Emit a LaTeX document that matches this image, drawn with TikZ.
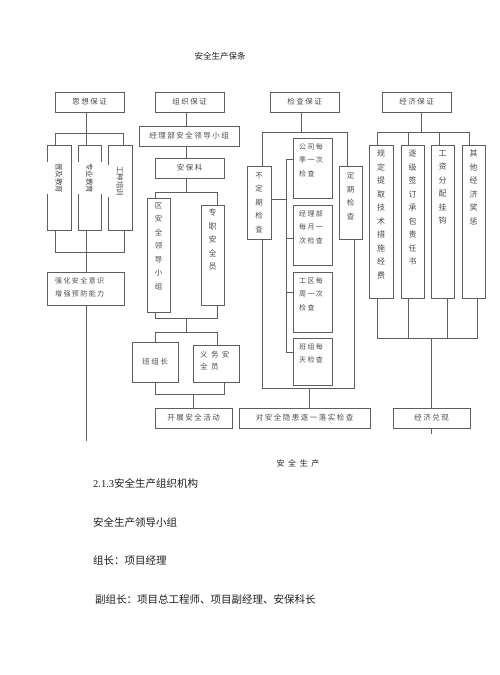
\documentclass[tikz,border=0pt]{standalone}
\usepackage{fontspec}
\setmainfont{Liberation Serif}
\newfontfamily\cjk{Noto Sans CJK SC}
\newfontfamily\cjksp[LetterSpace=20]{Noto Sans CJK SC}
\newfontfamily\cjkwide[LetterSpace=45]{Noto Sans CJK SC}
\definecolor{ln}{HTML}{5E5E5E}
\definecolor{tx}{HTML}{4A4A4A}
\definecolor{dk}{HTML}{1E1E1E}
\begin{document}
\begin{tikzpicture}[x=1pt,y=-1pt,
 box/.style={draw=ln, line width=0.9pt, inner sep=0pt, text=tx, font=\cjksp\fontsize{7.5}{9}\selectfont},
 wire/.style={draw=ln, line width=0.9pt},
 vtext/.style={inner sep=0pt, text=tx, align=center, anchor=north, font=\cjk\fontsize{7.5}{13.5}\selectfont},
 ltext/.style={inner sep=0pt, text=tx, align=left, anchor=north west, font=\cjksp\fontsize{7}{13.5}\selectfont},
 rtext/.style={rotate=-90, fill=white, inner xsep=1pt, inner ysep=9pt, text=tx, font=\cjk\fontsize{7.5}{9}\selectfont},
 plain/.style={inner sep=0pt, text=dk, anchor=west, font=\cjk\fontsize{10.5}{12}\selectfont}]
\useasboundingbox (0,0) rectangle (500,675);

% title
\node[inner sep=0pt, text=dk, font=\cjk\fontsize{8.5}{10}\selectfont] (title) at (220,56) {安全生产保条};

% top row
\node[box, minimum width=69pt, minimum height=20pt] (sx) at (89.5,102) {思想保证};
\node[box, minimum width=69pt, minimum height=20pt] (zz) at (189.5,102) {组织保证};
\node[box, minimum width=69pt, minimum height=20pt] (jc) at (304.5,102) {检查保证};
\node[box, minimum width=69pt, minimum height=20pt] (jj) at (416.5,102) {经济保证};

% ---------- column 1 ----------
\node[box, minimum width=24pt, minimum height=85pt] (a1) at (59,187.5) {};
\node[box, minimum width=23pt, minimum height=85pt] (a2) at (89.5,187.5) {};
\node[box, minimum width=24pt, minimum height=85pt] (a3) at (120,187.5) {};
\node[rtext] (a1t) at (59,178) {普及教育};
\node[rtext] (a2t) at (89.5,178) {专业教育};
\node[rtext] (a3t) at (120,181) {工种培训};
\node[box, minimum width=77pt, minimum height=33pt] (qh) at (85.5,288.5) {};
\node[ltext] (qht) at (55,277) {强化安全意识\\增强预防能力};

\coordinate (hL) at (55,133);
\coordinate (hM) at (86,133);
\coordinate (hR) at (123,133);
\draw[wire] (sx.south -| hM) -- (hM);
\draw[wire] (hL |- a1.north) -- (hL) -- (hR) -- (hR |- a3.north);
\draw[wire] (hM) -- (hM |- a2.north);
\coordinate (bL) at (55,252);
\coordinate (bM) at (86,252);
\coordinate (bR) at (124,252);
\draw[wire] (bL |- a1.south) -- (bL) -- (bR) -- (bR |- a3.south);
\draw[wire] (bM |- a2.south) -- (bM |- qh.north);
\coordinate (tail1) at (86,441);
\draw[wire] (bM |- qh.south) -- (tail1);

% ---------- column 2 ----------
\node[box, minimum width=100pt, minimum height=20pt] (jl) at (189,136) {经理部安全领导小组};
\node[box, minimum width=69pt, minimum height=20pt] (ab) at (189.5,168) {安保科};
\node[box, minimum width=23pt, minimum height=114pt] (qa) at (158.5,255) {};
\node[vtext] (qat) at (158.5,202) {区\\安\\全\\领\\导\\小\\组};
\node[box, minimum width=23pt, minimum height=100pt] (zj) at (212.5,255) {};
\node[vtext, font=\cjk\fontsize{8}{13.5}\selectfont] (zjt) at (212.5,209) {专\\职\\安\\全\\员};
\node[box, minimum width=46pt, minimum height=40pt] (bz) at (155,362) {班组长};
\node[box, minimum width=46pt, minimum height=37pt] (yw) at (216,363.5) {};
\node[inner sep=0pt, text=tx, align=left, anchor=north west, font=\cjkwide\fontsize{7.5}{12}\selectfont] (ywt) at (200,351) {义务安\\全员};
\node[box, minimum width=77pt, minimum height=20pt] (kz) at (193.5,418) {开展安全活动};

\coordinate (o1) at (186,0);
\draw[wire] (zz.south -| o1) -- (jl.north -| o1);
\draw[wire] (jl.south -| o1) -- (ab.north -| o1);
\coordinate (oL) at (155,192);
\coordinate (oM) at (186,192);
\coordinate (oR) at (217,192);
\draw[wire] (ab.south -| o1) -- (oM);
\draw[wire] (oL |- qa.north) -- (oL) -- (oR) -- (oR |- zj.north);
\coordinate (pL) at (155,318);
\coordinate (pM) at (186,318);
\coordinate (pR) at (217,318);
\draw[wire] (pL |- qa.south) -- (pL) -- (pR) -- (pR |- zj.south);
\coordinate (qL) at (155,332);
\coordinate (qM) at (186,332);
\coordinate (qR) at (217,332);
\draw[wire] (pM) -- (qM);
\draw[wire] (qL |- bz.north) -- (qL) -- (qR) -- (qR |- yw.north);
\coordinate (rL) at (155,394);
\coordinate (rM) at (193,394);
\coordinate (rR) at (224,394);
\draw[wire] (rL |- bz.south) -- (rL) -- (rR) -- (rR |- yw.south);
\draw[wire] (rM) -- (rM |- kz.north);

% ---------- column 3 ----------
\node[box, minimum width=24pt, minimum height=73pt] (bd) at (259,202.5) {};
\node[vtext, anchor=center] (bdt) at (259,202.5) {不\\定\\期\\检\\查};
\node[box, minimum width=23pt, minimum height=73pt] (dq) at (350.5,202.5) {};
\node[vtext] (dqt) at (350.5,172) {定\\期\\检\\查};
\node[box, minimum width=39pt, minimum height=60pt] (s1) at (312.5,168) {};
\node[box, minimum width=39pt, minimum height=60pt] (s2) at (312.5,235) {};
\node[box, minimum width=39pt, minimum height=60pt] (s3) at (312.5,302) {};
\node[box, minimum width=39pt, minimum height=47pt] (s4) at (312.5,361.5) {};
\node[ltext] (s1t) at (299,143) {公司每\\季一次\\检查};
\node[ltext] (s2t) at (299,210) {经理部\\每月一\\次检查};
\node[ltext] (s3t) at (299,277) {工区每\\周一次\\检查};
\node[ltext] (s4t) at (299,343) {班组每\\天检查};
\node[box, minimum width=131pt, minimum height=20pt] (dy) at (304.5,418) {对安全隐患逐一落实检查};

\coordinate (c1) at (301,132);
\coordinate (cL) at (262,132);
\coordinate (cR) at (347,132);
\draw[wire] (jc.south -| c1) -- (c1);
\draw[wire] (cL |- bd.north) -- (cL) -- (cR) -- (cR |- dq.north);
\coordinate (dL) at (262,388);
\coordinate (dM) at (309,388);
\coordinate (dR) at (354,388);
\draw[wire] (dL |- bd.south) -- (dL) -- (dR) -- (dR |- dq.south);
\draw[wire] (dM) -- (dM |- dy.north);
\coordinate (kT) at (286,159);
\coordinate (k2) at (286,238);
\coordinate (k3) at (286,292);
\coordinate (kB) at (286,352);
\coordinate (kb) at (286,199);
\draw[wire] (kT) -- (kB);
\draw[wire] (bd.east |- kb) -- (kb);
\draw[wire] (kT) -- (s1.west |- kT);
\draw[wire] (k2) -- (s2.west |- k2);
\draw[wire] (k3) -- (s3.west |- k3);
\draw[wire] (kB) -- (s4.west |- kB);

% ---------- column 4 ----------
\node[box, minimum width=24pt, minimum height=153pt] (e1) at (381,221.5) {};
\node[box, minimum width=23pt, minimum height=153pt] (e2) at (412.5,221.5) {};
\node[box, minimum width=23pt, minimum height=153pt] (e3) at (442.5,221.5) {};
\node[box, minimum width=23pt, minimum height=153pt] (e4) at (473.5,221.5) {};
\node[vtext, font=\cjk\fontsize{8}{13.5}\selectfont] (e1t) at (381,150) {规\\定\\提\\取\\技\\术\\措\\施\\经\\费};
\node[vtext, font=\cjk\fontsize{8}{13.5}\selectfont] (e2t) at (412.5,150) {逐\\级\\签\\订\\承\\包\\责\\任\\书};
\node[vtext, font=\cjk\fontsize{8}{13.5}\selectfont] (e3t) at (442.5,150) {工\\资\\分\\配\\挂\\钩};
\node[vtext, font=\cjk\fontsize{8}{13.5}\selectfont] (e4t) at (473.5,150) {其\\他\\经\\济\\奖\\惩};
\node[box, minimum width=77pt, minimum height=20pt] (jd) at (431.5,418) {经济兑现};

\coordinate (f1) at (421,132);
\coordinate (fL) at (377,132);
\coordinate (f2) at (408,132);
\coordinate (f3) at (439,132);
\coordinate (fR) at (469,132);
\draw[wire] (jj.south -| f1) -- (f1);
\draw[wire] (fL |- e1.north) -- (fL) -- (fR) -- (fR |- e4.north);
\draw[wire] (f2) -- (f2 |- e2.north);
\draw[wire] (f3) -- (f3 |- e3.north);
\coordinate (gL) at (377,338);
\coordinate (g2) at (408,338);
\coordinate (g3) at (447,338);
\coordinate (gR) at (477,338);
\coordinate (gM) at (431,338);
\draw[wire] (gL |- e1.south) -- (gL) -- (gR) -- (gR |- e4.south);
\draw[wire] (g2 |- e2.south) -- (g2);
\draw[wire] (g3 |- e3.south) -- (g3);
\draw[wire] (gM) -- (gM |- jd.north);
\coordinate (jdt) at (431,434);
\draw[wire] (jd.south -| jdt) -- (jdt);

% caption under chart
\node[inner sep=0pt, text=dk, font=\cjkwide\fontsize{8}{10}\selectfont] (cap) at (298,463) {安全生产};

% body text
\node[plain] (p1) at (93,483) {\rmfamily 2.1.3\cjk 安全生产组织机构};
\node[plain] (p2) at (93,522) {安全生产领导小组};
\node[plain] (p3) at (93,560) {组长：项目经理};
\node[plain] (p4) at (95,599) {副组长：项目总工程师、项目副经理、安保科长};
\end{tikzpicture}
\end{document}
